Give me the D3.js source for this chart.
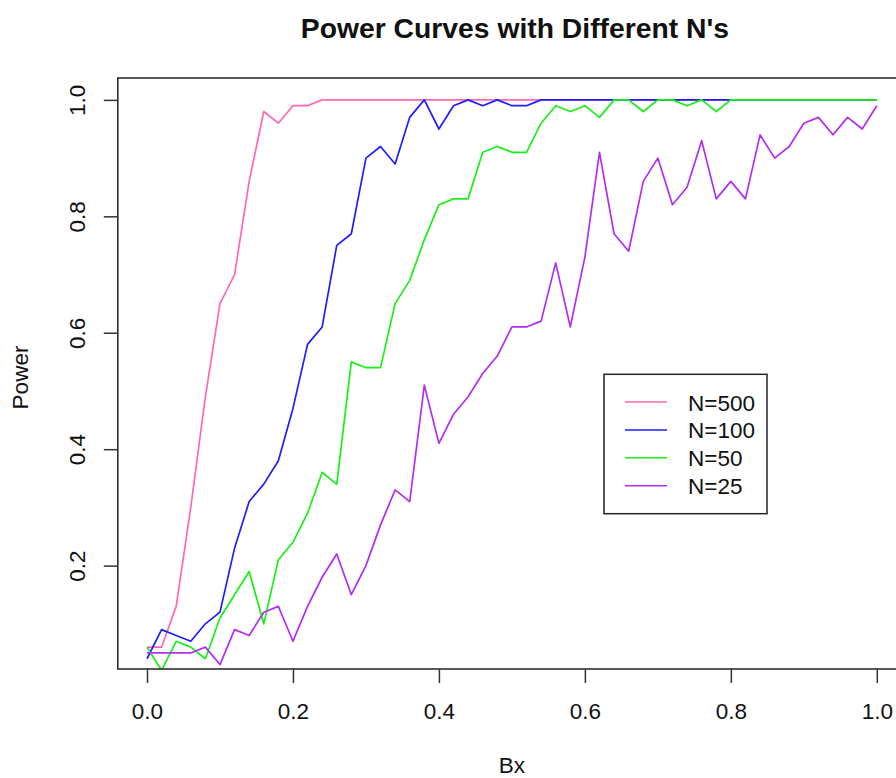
<!DOCTYPE html>
<html>
<head>
<meta charset="utf-8">
<script src="https://cdn.jsdelivr.net/npm/d3@7"></script>
<style>
  html, body { margin: 0; padding: 0; background: #fff; }
  svg { display: block; font-family: "Liberation Sans", Arial, Helvetica, sans-serif; }
</style>
</head>
<body>
<svg id="chart" width="896" height="778"></svg>
<script>
// ---- data ----
const bx = d3.range(0, 51).map(i => +(i * 0.02).toFixed(2));

const n500 = [0.06,0.06,0.13,0.30,0.49,0.65,0.70,0.86,0.98,0.96,0.99,0.99,1.00,1.00,1.00,1.00,1.00,1.00,1.00,1.00,
              1.00,1.00,1.00,1.00,1.00,1.00,1.00,1.00,1.00,1.00,1.00,1.00,1.00,1.00,1.00,1.00,1.00,1.00,1.00,1.00,
              1.00,1.00,1.00,1.00,1.00,1.00,1.00,1.00,1.00,1.00,1.00];
const n100 = [0.04,0.09,0.08,0.07,0.10,0.12,0.23,0.31,0.34,0.38,0.47,0.58,0.61,0.75,0.77,0.90,0.92,0.89,0.97,1.00,
              0.95,0.99,1.00,0.99,1.00,0.99,0.99,1.00,1.00,1.00,1.00,1.00,1.00,1.00,1.00,1.00,1.00,1.00,1.00,1.00,
              1.00,1.00,1.00,1.00,1.00,1.00,1.00,1.00,1.00,1.00,1.00];
const n50  = [0.06,0.02,0.07,0.06,0.04,0.11,0.15,0.19,0.10,0.21,0.24,0.29,0.36,0.34,0.55,0.54,0.54,0.65,0.69,0.76,
              0.82,0.83,0.83,0.91,0.92,0.91,0.91,0.96,0.99,0.98,0.99,0.97,1.00,1.00,0.98,1.00,1.00,0.99,1.00,0.98,
              1.00,1.00,1.00,1.00,1.00,1.00,1.00,1.00,1.00,1.00,1.00];
const n25  = [0.05,0.05,0.05,0.05,0.06,0.03,0.09,0.08,0.12,0.13,0.07,0.13,0.18,0.22,0.15,0.20,0.27,0.33,0.31,0.51,
              0.41,0.46,0.49,0.53,0.56,0.61,0.61,0.62,0.72,0.61,0.73,0.91,0.77,0.74,0.86,0.90,0.82,0.85,0.93,0.83,
              0.86,0.83,0.94,0.90,0.92,0.96,0.97,0.94,0.97,0.95,0.99];

const seriesNames = ["N=500", "N=100", "N=50", "N=25"];
const seriesColors = ["#FF69B4", "#1E1EFF", "#18F018", "#B42CF4"];
const seriesValues = [n500, n100, n50, n25];

const xTicks = [0, 0.2, 0.4, 0.6, 0.8, 1.0];
const yTicks = [0.2, 0.4, 0.6, 0.8, 1.0];

const title = "Power Curves with Different N's";
const xLabel = "Bx";
const yLabel = "Power";

// ---- layout ----
const svg = d3.select("#chart");
const pL = 117.8, pR = 906, pT = 78, pB = 669;

// R-style 4% axis extension; y range from first plotted series
const xr = d3.extent(bx), xpad = (xr[1] - xr[0]) * 0.04;
const yr = d3.extent(n500), ypad = (yr[1] - yr[0]) * 0.04;

const x = d3.scaleLinear().domain([xr[0] - xpad, xr[1] + xpad]).range([pL, pR]);
const y = d3.scaleLinear().domain([yr[0] - ypad, yr[1] + ypad]).range([pB, pT]);

svg.append("defs").append("clipPath").attr("id", "clip")
  .append("rect").attr("x", pL).attr("y", pT).attr("width", pR - pL).attr("height", pB - pT);

const line = d3.line().x((d, i) => x(bx[i])).y(d => y(d));

const g = svg.append("g").attr("clip-path", "url(#clip)");
seriesValues.forEach((vals, k) => {
  g.append("path").datum(vals)
    .attr("d", line)
    .attr("fill", "none")
    .attr("stroke", seriesColors[k])
    .attr("stroke-width", 1.7)
    .attr("stroke-linejoin", "round");
});

// box
svg.append("rect").attr("x", pL).attr("y", pT).attr("width", pR - pL).attr("height", pB - pT)
  .attr("fill", "none").attr("stroke", "#222").attr("stroke-width", 1.5);

// x axis
const xAxis = svg.append("g").attr("transform", `translate(0,${pB})`)
  .call(d3.axisBottom(x).tickValues(xTicks).tickFormat(d3.format(".1f")).tickSize(14).tickSizeOuter(0));
xAxis.select(".domain").attr("stroke", "none");
xAxis.selectAll(".tick line").attr("stroke", "#333").attr("stroke-width", 1.5);
xAxis.selectAll(".tick text").attr("y", 50).attr("dy", 0)
  .attr("font-size", 22.5).attr("fill", "#111").attr("font-family", "Liberation Sans, Arial, sans-serif");

// y axis
const yAxis = svg.append("g").attr("transform", `translate(${pL},0)`)
  .call(d3.axisLeft(y).tickValues(yTicks).tickFormat(d3.format(".1f")).tickSize(14).tickSizeOuter(0));
yAxis.select(".domain").attr("stroke", "none");
yAxis.selectAll(".tick line").attr("stroke", "#333").attr("stroke-width", 1.5);
yAxis.selectAll(".tick text")
  .attr("x", null).attr("dy", null)
  .attr("transform", "translate(-33,0) rotate(-90)")
  .attr("text-anchor", "middle")
  .attr("font-size", 22.5).attr("fill", "#111").attr("font-family", "Liberation Sans, Arial, sans-serif");

// title & labels
svg.append("text").attr("x", (pL + pR) / 2 + 3).attr("y", 38).attr("text-anchor", "middle")
  .attr("font-size", 28.3).attr("font-weight", "bold").attr("fill", "#111").text(title);
svg.append("text").attr("x", (pL + pR) / 2).attr("y", 773).attr("text-anchor", "middle")
  .attr("font-size", 22.5).attr("fill", "#111").text(xLabel);
svg.append("text").attr("transform", `translate(28,${(pT + pB) / 2 + 4}) rotate(-90)`).attr("text-anchor", "middle")
  .attr("font-size", 22.5).attr("fill", "#111").text(yLabel);

// legend
const lg = svg.append("g");
lg.append("rect").attr("x", 604).attr("y", 374.3).attr("width", 163).attr("height", 139.4)
  .attr("fill", "#fff").attr("stroke", "#222").attr("stroke-width", 1.5);
seriesNames.forEach((name, k) => {
  const yy = 402 + k * 27.9;
  lg.append("line").attr("x1", 625).attr("x2", 667).attr("y1", yy).attr("y2", yy)
    .attr("stroke", seriesColors[k]).attr("stroke-width", 1.5);
  lg.append("text").attr("x", 688).attr("y", yy + 8.5).attr("font-size", 22.5).attr("fill", "#111").text(name);
});
</script>
</body>
</html>
